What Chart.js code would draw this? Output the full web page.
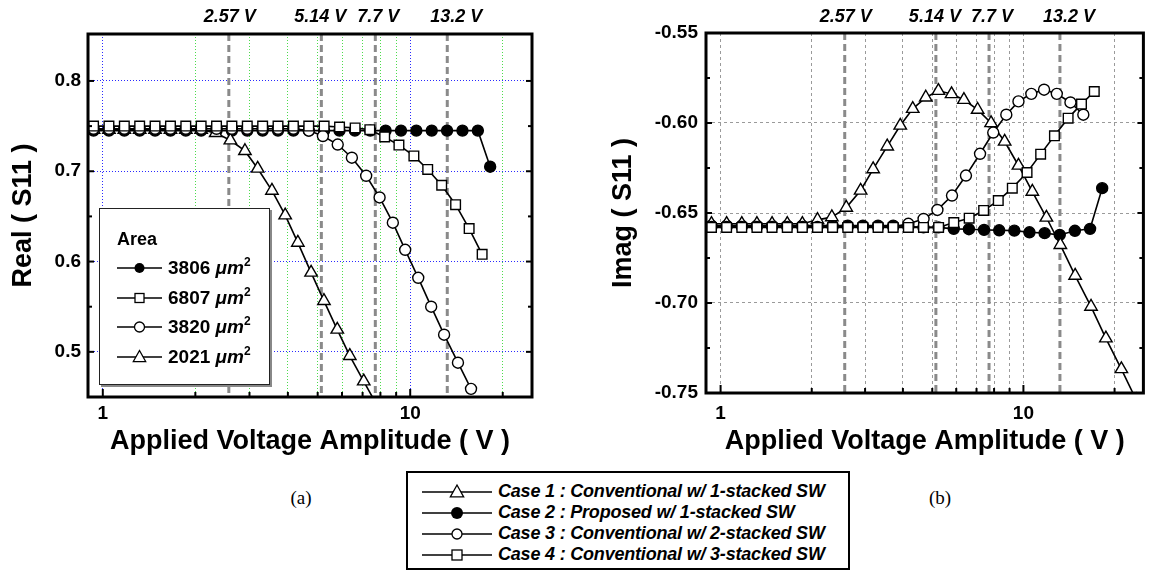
<!DOCTYPE html>
<html lang="en">
<head>
<meta charset="UTF-8">
<title>S11 vs applied voltage amplitude</title>
<script src="https://cdn.jsdelivr.net/npm/chart.js"></script>
<style>
    body { margin: 0; background: #fff; font-family: "Liberation Sans", Arial, sans-serif; }
    .page { position: relative; width: 1152px; height: 571px; overflow: hidden; }
    canvas { position: absolute; top: 0; }
    #realChart { left: 0; }
    #imagChart { left: 576px; }
    .area-legend {
        position: absolute; left: 99px; top: 208px; width: 171px; height: 177px;
        box-sizing: border-box; border: 1px solid #222; background: #fff;
        box-shadow: 2px 2px 0 #888;
    }
    .area-legend .head { position: absolute; left: 17px; top: 18px; font-weight: bold; font-size: 18px; line-height: 24px; }
    .area-legend .rows { position: absolute; left: 17px; top: 44px; }
    .area-legend .row { height: 29.7px; display: flex; align-items: center; font-weight: bold; font-size: 19px; }
    .area-legend .row span { margin-left: 6px; white-space: nowrap; }
    .area-legend sup { font-size: 12px; vertical-align: 8px; line-height: 0; }
    .case-legend {
        position: absolute; left: 406px; top: 471px; width: 444px; height: 99px;
        box-sizing: border-box; border: 2px solid #000; background: #fff;
    }
    .case-legend .rows { position: absolute; left: 14px; top: 8px; }
    .case-legend .row { height: 21px; display: flex; align-items: center; font-weight: bold; font-style: italic; font-size: 18px; }
    .case-legend .row span { margin-left: 6px; white-space: nowrap; letter-spacing: -0.2px; }
    .caption { position: absolute; top: 487px; font-family: "Liberation Serif", "Times New Roman", serif; font-size: 19px; width: 40px; text-align: center; }
</style>
</head>
<body>
<div class="page">
    <canvas id="realChart" width="560" height="470"></canvas>
    <canvas id="imagChart" width="576" height="470"></canvas>
    <div class="area-legend" id="areaLegend">
        <div class="head">Area</div>
        <div class="rows"></div>
    </div>
    <div class="case-legend" id="caseLegend"><div class="rows"></div></div>
    <div class="caption" style="left:281px">(a)</div>
    <div class="caption" style="left:920px">(b)</div>
</div>
<script>
    // applied voltage amplitude (V) of every measured point, per case
    const case1V = [0.933, 1.047, 1.175, 1.318, 1.479, 1.660, 1.862, 2.089, 2.33, 2.60, 2.90, 3.19, 3.55, 3.92, 4.31, 4.76,
                    5.24, 5.79, 6.36, 7.06, 7.82, 8.67, 9.63, 10.70, 11.91, 13.24, 14.82, 16.72, 18.72, 21.06, 23.6];
    const case2V = [0.933, 1.047, 1.175, 1.318, 1.479, 1.660, 1.862, 2.089, 2.344, 2.630, 2.951, 3.311, 3.715, 4.169,
                    4.677, 5.248, 5.888, 6.607, 7.413, 8.318, 9.333, 10.47, 11.75, 13.18, 14.79, 16.60, 18.2];
    const case3V = [0.933, 1.047, 1.175, 1.318, 1.479, 1.660, 1.862, 2.089, 2.344, 2.630, 2.951, 3.311, 3.715, 4.169,
                    4.68, 5.20, 5.81, 6.46, 7.19, 7.95, 8.78, 9.63, 10.62, 11.70, 12.89, 14.30, 15.77];
    const case4V = [0.933, 1.047, 1.175, 1.318, 1.479, 1.660, 1.862, 2.089, 2.344, 2.630, 2.951, 3.311, 3.715, 4.169,
                    4.677, 5.248, 5.89, 6.62, 7.39, 8.26, 9.19, 10.28, 11.40, 12.66, 14.05, 15.55, 17.14];

    // Real(S11)
    const case1Real = [0.746, 0.746, 0.746, 0.746, 0.746, 0.746, 0.746, 0.746, 0.7424, 0.7343, 0.7225, 0.703, 0.6786,
                       0.6513, 0.621, 0.5878, 0.5564, 0.5247, 0.4955, 0.4674, 0.44];
    const case2Real = [0.745, 0.745, 0.745, 0.745, 0.745, 0.745, 0.745, 0.745, 0.745, 0.745, 0.745, 0.745, 0.745, 0.745,
                       0.745, 0.745, 0.745, 0.745, 0.745, 0.745, 0.745, 0.745, 0.745, 0.745, 0.745, 0.745, 0.705];
    const case3Real = [0.747, 0.747, 0.747, 0.747, 0.747, 0.747, 0.747, 0.747, 0.747, 0.747, 0.747, 0.747, 0.747, 0.747,
                       0.745, 0.739, 0.7296, 0.715, 0.695, 0.671, 0.643, 0.613, 0.582, 0.550, 0.519, 0.488, 0.459];
    const case4Real = [0.750, 0.750, 0.750, 0.750, 0.750, 0.750, 0.750, 0.750, 0.750, 0.750, 0.750, 0.750, 0.750, 0.750,
                       0.750, 0.750, 0.749, 0.748, 0.746, 0.738, 0.729, 0.717, 0.702, 0.6845, 0.663, 0.6365, 0.608];

    // Imag(S11)
    const case1Imag = [-0.656, -0.656, -0.656, -0.656, -0.656, -0.656, -0.656, -0.6538, -0.6523, -0.647, -0.6375, -0.6256,
                       -0.613, -0.6014, -0.5921, -0.5858, -0.5821, -0.5839, -0.5871, -0.5926, -0.600, -0.6103, -0.6236,
                       -0.6381, -0.6525, -0.6677, -0.6848, -0.702, -0.7196, -0.7367, -0.754];
    const case2Imag = [-0.657, -0.657, -0.657, -0.657, -0.657, -0.657, -0.657, -0.657, -0.657, -0.657, -0.657, -0.657,
                       -0.657, -0.6575, -0.658, -0.658, -0.6588, -0.659, -0.6594, -0.6596, -0.6598, -0.6607, -0.6612,
                       -0.6622, -0.6599, -0.6588, -0.6362];
    const case3Imag = [-0.6577, -0.6577, -0.6577, -0.6577, -0.6577, -0.6577, -0.6577, -0.6577, -0.6577, -0.6577, -0.6577,
                       -0.6577, -0.6577, -0.656, -0.6533, -0.6483, -0.6403, -0.6292, -0.6171, -0.6053, -0.5954, -0.588,
                       -0.5838, -0.5815, -0.5838, -0.5886, -0.5954];
    const case4Imag = [-0.658, -0.658, -0.658, -0.658, -0.658, -0.658, -0.658, -0.658, -0.658, -0.658, -0.658, -0.658,
                       -0.658, -0.658, -0.658, -0.658, -0.6553, -0.6529, -0.6486, -0.6431, -0.6362, -0.6275, -0.6173,
                       -0.6071, -0.5973, -0.5895, -0.5825];

    // reference voltages marked with dashed lines
    const markerVolts = [2.57, 5.14, 7.7, 13.2];
    const markerLabels = ['2.57 V', '5.14 V', '7.7 V', '13.2 V'];

    // axis ticks
    const xTicks = [1, 2, 3, 4, 5, 6, 7, 8, 9, 10, 20];
    const xLabelled = [1, 10];
    const realTicks = [0.5, 0.6, 0.7, 0.8];
    const realMinor = [0.55, 0.65, 0.75];
    const imagTicks = [-0.75, -0.70, -0.65, -0.60, -0.55];
    const imagMinor = [-0.725, -0.675, -0.625, -0.575];

    // legend texts
    const caseNames = ['Case 1 : Conventional w/ 1-stacked SW', 'Case 2 : Proposed w/ 1-stacked SW',
                       'Case 3 : Conventional w/ 2-stacked SW', 'Case 4 : Conventional w/ 3-stacked SW'];
    const areaNames = ['3806', '6807', '3820', '2021'];

    const FONT = '"Liberation Sans", Arial, sans-serif';
    Chart.defaults.font.family = FONT;
    Chart.defaults.color = '#000';

    const labelShift = [1, -1, 3, 9];

    const decorations = {
        id: 'decorations',
        beforeDatasetsDraw(chart) {
            const {ctx, chartArea: a, scales: {x}} = chart;
            ctx.save();
            ctx.strokeStyle = '#8a8a8a';
            ctx.lineWidth = 3;
            ctx.setLineDash([7, 4]);
            markerVolts.forEach(v => {
                const px = x.getPixelForValue(v);
                ctx.beginPath();
                ctx.moveTo(px, a.top);
                ctx.lineTo(px, a.bottom);
                ctx.stroke();
            });
            ctx.restore();
        },
        afterDraw(chart, args, opts) {
            const {ctx, chartArea: a, scales: {x, y}} = chart;
            ctx.save();
            ctx.fillStyle = '#000';
            ctx.font = 'italic bold 18px ' + FONT;
            ctx.textAlign = 'center';
            ctx.textBaseline = 'middle';
            markerVolts.forEach((v, i) => {
                ctx.fillText(markerLabels[i], x.getPixelForValue(v) + labelShift[i], 17);
            });

            ctx.strokeStyle = '#000';
            ctx.lineWidth = 2;
            const seg = (x1, y1, x2, y2) => {
                ctx.beginPath(); ctx.moveTo(x1, y1); ctx.lineTo(x2, y2); ctx.stroke();
            };
            xTicks.forEach(v => {
                const px = x.getPixelForValue(v);
                const len = xLabelled.includes(v) ? 8 : 5;
                seg(px, a.bottom, px, a.bottom - len);
            });
            opts.major.forEach(v => {
                const py = y.getPixelForValue(v);
                seg(a.left, py, a.left + 6, py);
                seg(a.right, py, a.right - 6, py);
            });
            opts.minor.forEach(v => {
                const py = y.getPixelForValue(v);
                seg(a.left, py, a.left + 4, py);
                seg(a.right, py, a.right - 4, py);
            });
            ctx.lineWidth = 3;
            ctx.strokeRect(a.left, a.top, a.right - a.left, a.bottom - a.top);
            ctx.restore();
        }
    };

    function points(vs, ys) {
        return ys.map((v, i) => ({x: vs[i], y: v}));
    }

    function series(vs, ys, style, fill, radius) {
        return {
            data: points(vs, ys),
            borderColor: '#000',
            borderWidth: 1.6,
            tension: 0,
            pointStyle: style,
            pointRadius: radius,
            pointBackgroundColor: fill,
            pointBorderColor: '#000',
            pointBorderWidth: 1.4
        };
    }

    function buildChart(id, cfg) {
        return new Chart(document.getElementById(id), {
            type: 'line',
            data: {
                datasets: [
                    series(case4V, cfg.c4, 'rect', '#fff', 6.8),
                    series(case3V, cfg.c3, 'circle', '#fff', 5.5),
                    series(case1V, cfg.c1, 'triangle', '#fff', 7.2),
                    series(case2V, cfg.c2, 'circle', '#000', 5.5)
                ]
            },
            options: {
                responsive: false,
                animation: false,
                layout: {padding: cfg.padding},
                plugins: {
                    legend: {display: false},
                    tooltip: {enabled: false},
                    decorations: {major: cfg.yTicks, minor: cfg.yMinor}
                },
                scales: {
                    x: {
                        type: 'logarithmic',
                        min: 0.895,
                        max: 24.9,
                        afterBuildTicks: s => { s.ticks = xTicks.map(v => ({value: v})); },
                        afterFit: s => { s.height = cfg.xHeight; },
                        grid: {color: cfg.xGrid, lineWidth: 1, drawTicks: false},
                        border: {display: false, dash: cfg.dash},
                        ticks: {
                            autoSkip: false, maxRotation: 0, padding: cfg.xPad,
                            font: {size: 19, weight: 'bold'},
                            callback: v => xLabelled.includes(v) ? String(v) : ''
                        },
                        title: {
                            display: true, text: 'Applied Voltage Amplitude ( V )',
                            font: {size: 27, weight: 'bold'}, padding: {top: 0, bottom: 12}
                        }
                    },
                    y: {
                        min: cfg.yMin,
                        max: cfg.yMax,
                        afterBuildTicks: s => { s.ticks = cfg.yTicks.map(v => ({value: v})); },
                        afterFit: s => { s.width = cfg.yWidth; },
                        grid: {color: cfg.yGrid, lineWidth: 1, drawTicks: false},
                        border: {display: false, dash: cfg.dash},
                        ticks: {
                            padding: cfg.yPad,
                            font: {size: 19, weight: 'bold'},
                            callback: v => v.toFixed(cfg.digits)
                        },
                        title: {
                            display: true, text: cfg.yTitle,
                            font: {size: 27, weight: 'bold'}, padding: {top: cfg.yTitlePad, bottom: 0}
                        }
                    }
                }
            },
            plugins: [decorations]
        });
    }

    buildChart('realChart', {
        c1: case1Real, c2: case2Real, c3: case3Real, c4: case4Real,
        padding: {top: 34, right: 28, left: 0, bottom: 0},
        xHeight: 73, yWidth: 88, xPad: 5, yPad: 7,
        yMin: 0.45, yMax: 0.852, yTicks: realTicks, yMinor: realMinor, digits: 1,
        yTitle: 'Real ( S11 )', yTitlePad: 7,
        dash: [1, 2],
        xGrid: c => xLabelled.includes(c.tick.value) ? '#2a2aff' : '#4cdc4c',
        yGrid: '#2a2aff'
    });

    buildChart('imagChart', {
        c1: case1Imag, c2: case2Imag, c3: case3Imag, c4: case4Imag,
        padding: {top: 33, right: 4, left: 0, bottom: 0},
        xHeight: 77, yWidth: 130, xPad: 9, yPad: 8,
        yMin: -0.75, yMax: -0.55, yTicks: imagTicks, yMinor: imagMinor, digits: 2,
        yTitle: 'Imag ( S11 )', yTitlePad: 31,
        dash: [3, 3],
        xGrid: '#9a9a9a',
        yGrid: '#9a9a9a'
    });

    // legend symbols
    function symbol(kind, w, s) {
        const h = 18, c = w / 2, m = h / 2;
        let shape = '';
        if (kind === 'dot') shape = `<circle cx="${c}" cy="${m}" r="${s}" fill="#000"/>`;
        if (kind === 'circle') shape = `<circle cx="${c}" cy="${m}" r="${s}" fill="#fff" stroke="#000" stroke-width="1.3"/>`;
        if (kind === 'square') shape = `<rect x="${c - s}" y="${m - s}" width="${2 * s}" height="${2 * s}" fill="#fff" stroke="#000" stroke-width="1.3"/>`;
        if (kind === 'triangle') shape = `<polygon points="${c},${m - s} ${c + s * 0.95},${m + s * 0.7} ${c - s * 0.95},${m + s * 0.7}" fill="#fff" stroke="#000" stroke-width="1.3"/>`;
        return `<svg width="${w}" height="${h}"><line x1="0" y1="${m}" x2="${w}" y2="${m}" stroke="#000" stroke-width="1.6"/>${shape}</svg>`;
    }

    const areaKinds = [['dot', 5], ['square', 4.5], ['circle', 5], ['triangle', 6.5]];
    document.querySelector('#areaLegend .rows').innerHTML = areaNames.map((n, i) =>
        `<div class="row">${symbol(areaKinds[i][0], 45, areaKinds[i][1])}<span>${n} <i>&mu;m</i><sup>2</sup></span></div>`
    ).join('');

    const caseKinds = [['triangle', 7], ['dot', 6], ['circle', 5], ['square', 5]];
    document.querySelector('#caseLegend .rows').innerHTML = caseNames.map((n, i) =>
        `<div class="row">${symbol(caseKinds[i][0], 70, caseKinds[i][1])}<span>${n}</span></div>`
    ).join('');
</script>
</body>
</html>
